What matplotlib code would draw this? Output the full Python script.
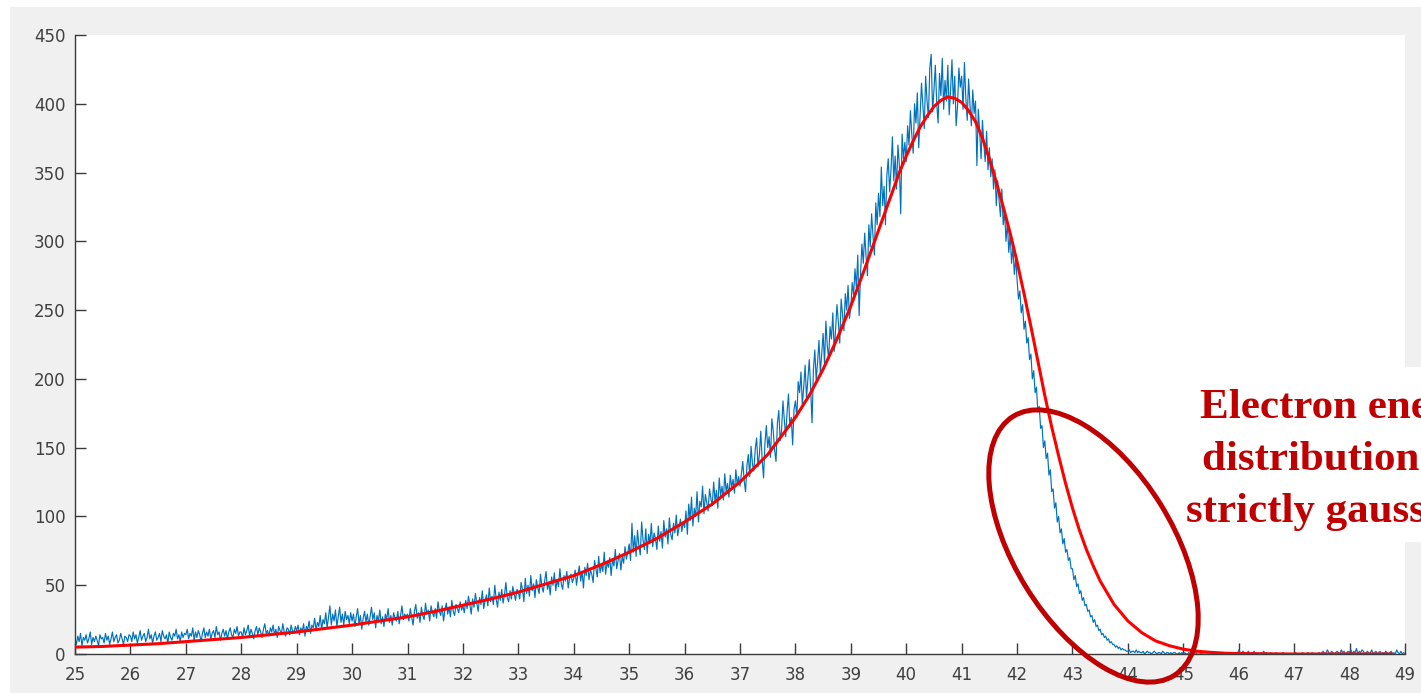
import numpy as np
import matplotlib
matplotlib.use("Agg")
import matplotlib.pyplot as plt
from matplotlib.patches import Rectangle, Ellipse
from matplotlib.transforms import IdentityTransform

# ---------------- data ----------------
# measured spectrum (bin centres every 0.025 from 25 to 49)
blue_x_start, blue_x_stop = 25.0, 49.0
blue_counts = [
    # 25
    11, 7, 13, 9, 15, 6, 12, 10, 14, 8, 11, 16, 7, 12, 9, 13, 10, 6, 14, 11,
    12, 8, 15, 10, 13, 7, 11, 16, 9, 12, 14, 8, 10, 15, 11, 7, 13, 12, 9, 14,
    # 26
    13, 9, 16, 11, 14, 8, 12, 17, 10, 13, 15, 9, 12, 18, 11, 14, 8, 13, 16, 10,
    12, 15, 9, 17, 13, 11, 14, 8, 16, 12, 10, 15, 13, 18, 11, 14, 9, 16, 12, 15,
    # 27
    14, 18, 11, 15, 13, 19, 10, 16, 12, 17, 14, 9, 15, 19, 12, 16, 13, 18, 11, 15,
    17, 12, 20, 14, 16, 10, 15, 18, 13, 17, 11, 16, 19, 14, 12, 18, 15, 20, 13, 16,
    # 28
    16, 12, 19, 14, 17, 21, 13, 18, 15, 11, 17, 20, 14, 19, 16, 12, 18, 22, 15, 17,
    13, 19, 16, 21, 14, 18, 12, 20, 17, 15, 22, 16, 13, 19, 18, 14, 21, 17, 15, 20,
    # 29
    17, 21, 14, 19, 16, 22, 13, 20, 18, 24, 15, 21, 19, 26, 17, 23, 20, 28, 18, 25,
    22, 30, 19, 27, 35, 21, 29, 24, 32, 20, 27, 34, 23, 29, 21, 31, 25, 28, 22, 30,
    # 30
    24, 29, 20, 27, 33, 22, 28, 18, 26, 31, 23, 29, 21, 27, 34, 25, 30, 19, 28, 24,
    32, 22, 27, 20, 29, 25, 33, 23, 28, 21, 30, 26, 24, 31, 22, 28, 35, 25, 29, 27,
    # 31
    29, 24, 33, 27, 21, 31, 36, 26, 30, 23, 34, 28, 25, 37, 29, 32, 24, 35, 30, 27,
    33, 26, 38, 31, 28, 35, 24, 32, 37, 29, 34, 27, 39, 31, 28, 36, 33, 30, 38, 32,
    # 32
    35, 30, 39, 33, 42, 36, 29, 40, 34, 44, 37, 31, 41, 36, 46, 33, 39, 43, 35, 48,
    38, 42, 36, 50, 40, 34, 45, 39, 47, 37, 43, 52, 41, 38, 46, 40, 49, 44, 39, 47,
    # 33
    45, 40, 52, 47, 38, 55, 44, 50, 42, 57, 46, 51, 41, 54, 48, 44, 58, 49, 45, 53,
    60, 47, 52, 43, 56, 50, 59, 46, 54, 49, 62, 51, 47, 57, 53, 60, 48, 55, 58, 52,
    # 34
    55, 61, 50, 58, 64, 53, 60, 48, 63, 57, 66, 54, 61, 58, 52, 68, 62, 56, 71, 59,
    65, 60, 74, 58, 67, 63, 70, 57, 69, 64, 76, 62, 68, 73, 61, 71, 66, 78, 69, 74,
    # 35
    80, 68, 95, 74, 86, 71, 90, 79, 72, 96, 83, 76, 91, 73, 87, 80, 95, 78, 88, 84,
    76, 93, 82, 89, 77, 97, 85, 91, 80, 99, 87, 83, 95, 88, 101, 86, 92, 98, 89, 96,
    # 36
    92, 104, 87, 109, 97, 114, 93, 106, 100, 118, 96, 111, 107, 122, 102, 116, 110, 104, 120, 113,
    108, 125, 111, 119, 106, 128, 115, 122, 112, 131, 118, 124, 114, 130, 121, 127, 117, 134, 123, 129,
    # 37
    122, 131, 140, 126, 118, 137, 145, 129, 151, 138, 133, 149, 157, 136, 145, 162, 141, 128, 153, 166,
    150, 158, 143, 171, 162, 148, 140, 168, 177, 155, 163, 184, 170, 158, 176, 189, 165, 172, 152, 178,
    # 38
    184, 172, 198, 190, 205, 181, 194, 210, 186, 200, 214, 193, 168, 207, 221, 199, 212, 228, 204, 218,
    233, 211, 242, 224, 215, 238, 229, 248, 220, 236, 254, 241, 226, 258, 247, 235, 262, 250, 268, 244,
    # 39
    252, 270, 261, 280, 266, 290, 246, 276, 298, 284, 306, 289, 275, 312, 296, 320, 304, 290, 328, 312,
    335, 318, 354, 326, 340, 312, 348, 360, 336, 352, 376, 344, 362, 338, 370, 356, 320, 378, 360, 372,
    # 40
    358, 384, 370, 395, 378, 364, 400, 386, 408, 368, 392, 415, 398, 382, 420, 402, 390, 426, 436, 394,
    410, 428, 400, 386, 422, 406, 433, 396, 417, 402, 428, 392, 410, 432, 400, 420, 384, 398, 426, 412,
    # 41
    420, 396, 430, 404, 388, 418, 399, 384, 410, 393, 402, 355, 396, 380, 360, 388, 371, 358, 380, 352,
    368, 347, 360, 338, 352, 326, 344, 330, 318, 338, 312, 322, 300, 314, 292, 305, 284, 296, 276, 288,
    # 42
    272, 258, 264, 248, 254, 236, 242, 226, 230, 214, 218, 200, 206, 190, 194, 176, 180, 164, 166, 150,
    155, 142, 146, 130, 134, 118, 120, 106, 110, 96, 100, 88, 91, 80, 84, 74, 76, 68, 70, 62,
    # 43
    62, 54, 57, 49, 51, 44, 46, 39, 41, 35, 36, 31, 32, 27, 28, 23, 25, 20, 21, 17,
    18, 14, 15, 12, 13, 10, 11, 8, 9, 7, 7, 5, 6, 4, 5, 3, 4, 3, 3, 2,
    # 44
    2, 3, 1, 2, 2, 1, 3, 1, 2, 1, 1, 2, 0, 1, 2, 1, 1, 0, 1, 2,
    1, 0, 1, 1, 0, 2, 1, 0, 1, 1, 0, 1, 0, 1, 1, 0, 0, 1, 0, 1,
    # 45
    0, 1, 0, 0, 1, 0, 1, 0, 0, 1, 0, 0, 0, 1, 0, 0, 0, 0, 0, 0,
    0, 0, 0, 0, 0, 0, 0, 0, 0, 0, 0, 0, 0, 0, 0, 0, 0, 0, 0, 0,
    # 46
    3, 1, 0, 2, 1, 0, 1, 2, 0, 1, 0, 2, 0, 1, 0, 0, 1, 0, 2, 0,
    1, 0, 0, 1, 0, 0, 0, 1, 0, 0, 0, 0, 1, 0, 0, 0, 0, 0, 0, 0,
    # 47
    0, 1, 0, 0, 0, 0, 1, 0, 0, 0, 1, 0, 0, 1, 0, 0, 0, 0, 1, 0,
    1, 2, 0, 1, 3, 1, 0, 2, 1, 0, 1, 2, 1, 0, 3, 1, 2, 0, 1, 2,
    # 48
    1, 3, 0, 2, 1, 4, 0, 2, 1, 3, 2, 0, 1, 2, 0, 1, 3, 0, 1, 2,
    0, 1, 2, 0, 1, 0, 2, 1, 0, 1, 2, 0, 1, 0, 3, 1, 0, 2, 0, 1,
    # 49
    0,
]

# fitted curve
fit_x = [25.0, 25.5, 26.0, 26.5, 27.0, 27.5, 28.0, 28.5, 29.0, 29.5,
         30.0, 30.5, 31.0, 31.5, 32.0, 32.5, 33.0, 33.5, 34.0, 34.5,
         35.0, 35.5, 36.0, 36.5, 37.0, 37.5, 38.0, 38.25, 38.5, 38.75,
         39.0, 39.25, 39.5, 39.625, 39.75, 39.875, 40.0, 40.125, 40.25, 40.375,
         40.5, 40.625, 40.75, 40.875, 41.0, 41.125, 41.25, 41.375, 41.5, 41.625,
         41.75, 41.875, 42.0, 42.125, 42.25, 42.375, 42.5, 42.625, 42.75, 42.875,
         43.0, 43.125, 43.25, 43.375, 43.5, 43.75, 44.0, 44.25, 44.5, 44.75,
         45.0, 45.25, 45.5, 45.75, 46.0, 47.0, 48.0, 48.75]
fit_y = [5, 5.5, 6.5, 7.5, 9, 10.5, 12, 14, 16, 18.5,
         21, 24, 27, 31, 35.5, 40, 45, 51, 57, 65,
         74, 84, 96, 109, 125, 145, 172, 188, 207, 229,
         253, 280, 308, 322, 336, 350, 362, 373, 383, 391,
         398, 402.5, 405, 404, 401, 395, 387, 375, 360, 343,
         325, 306, 285, 262, 238, 213, 188, 165, 144, 124,
         106, 90, 76, 64, 53, 36, 24, 15.5, 9.5, 6,
         3.5, 2, 1.2, 0.6, 0.3, 0, 0, 0]

x_ticks = list(range(25, 50))
y_ticks = list(range(0, 451, 50))
note_lines = ["Electron energy", "distribution not", "strictly gaussian"]

# ---------------- figure ----------------
W, H = 1421, 693
fig = plt.figure(figsize=(W / 100, H / 100), dpi=100, facecolor="white")

# grey MATLAB figure background
fig.patches.append(Rectangle((10 / W, 0), 1 - 10 / W, (H - 7) / H,
                             transform=fig.transFigure, facecolor="#F0F0F0",
                             edgecolor="none", zorder=-10))
# white box behind annotation text (outside the axes part)
fig.patches.append(Rectangle((1405 / W, (H - 542) / H), 16 / W, 175 / H,
                             transform=fig.transFigure, facecolor="white",
                             edgecolor="none", zorder=-5))

ax = fig.add_axes([75 / W, (H - 654) / H, (1405 - 75) / W, (654 - 35) / H])
ax.set_facecolor("white")

bx = np.linspace(blue_x_start, blue_x_stop, len(blue_counts))
ax.plot(bx, blue_counts, color="#0072BD", lw=0.85, zorder=2)
ax.plot(fit_x, fit_y, color="#FF0000", lw=2.2, zorder=3,
        solid_joinstyle="round")

ax.set_xlim(25, 49)
ax.set_ylim(0, 450)
ax.set_xticks(x_ticks)
ax.set_yticks(y_ticks)
axcol = "#3a3a3a"
for s in ["top", "right"]:
    ax.spines[s].set_visible(False)
for s in ["left", "bottom"]:
    ax.spines[s].set_color(axcol)
    ax.spines[s].set_linewidth(1.0)
ax.tick_params(direction="in", length=8, width=1.0, color=axcol,
               labelcolor="#404040", labelsize=12)
ax.tick_params(axis="x", pad=9)
ax.tick_params(axis="y", pad=7)

# annotation ellipse (pixel coordinates, y measured from bottom)
ell = Ellipse((1093.5, H - 546), width=305, height=158, angle=-58.2,
              transform=IdentityTransform(), fill=False,
              edgecolor="#C00000", lw=3.6, zorder=10, clip_on=False)
fig.patches.append(ell)

# annotation text (runs past the right edge, as in the original slide)
base_y = [418, 470, 522]
start_x = [1200, 1202, 1186]
for txt, px, py in zip(note_lines, start_x, base_y):
    fig.text(px / W, (H - py) / H, txt, ha="left", va="baseline",
             fontsize=31, fontweight="bold", family="Liberation Serif",
             color="#C00000", zorder=11)

fig.savefig("out.png", dpi=100, facecolor=fig.get_facecolor())
